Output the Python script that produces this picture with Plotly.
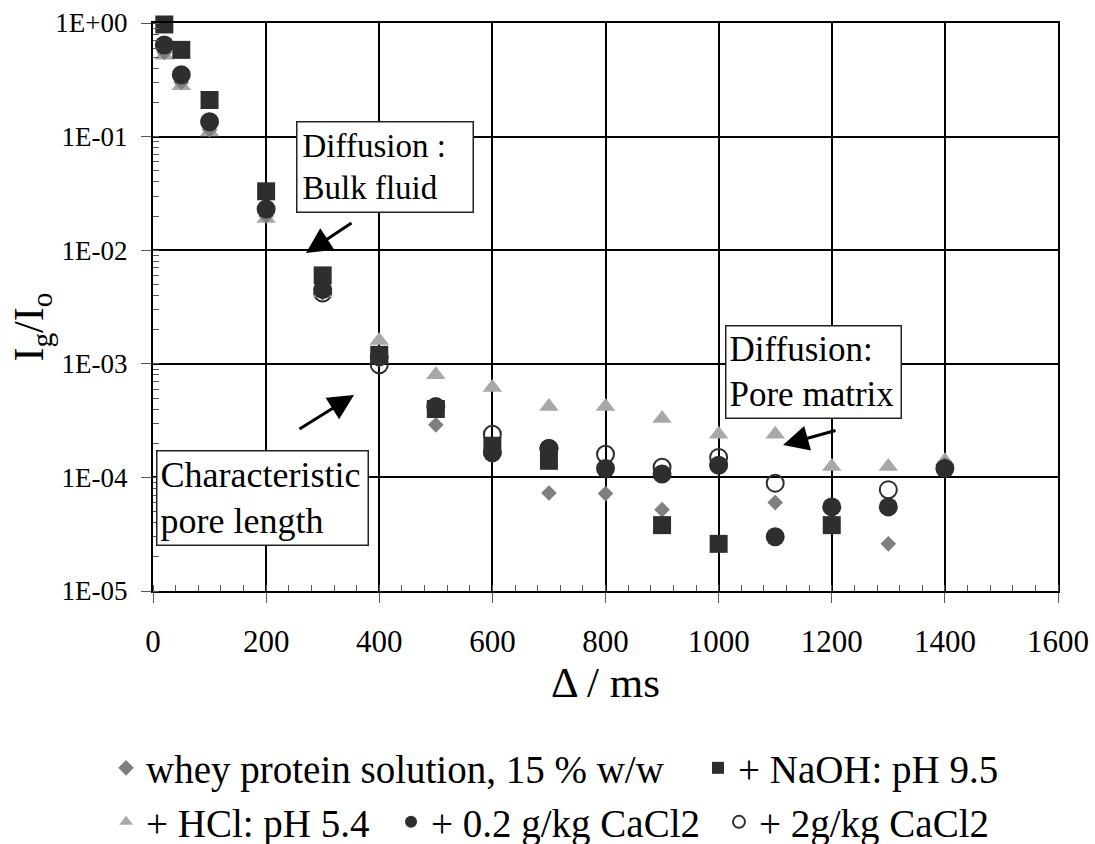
import plotly.graph_objects as go

# ---- data ----
x_whey = [20, 50, 100, 200, 300, 400, 500, 600, 700, 800, 900, 1100, 1300, 1400]
y_whey = [0.55, 0.30, 0.115, 0.020, 0.0042, 0.0011, 0.00029, 0.00018, 0.000073,
          0.000072, 0.000052, 0.00006, 0.000026, 0.00013]

x_naoh = [20, 50, 100, 200, 300, 400, 500, 600, 700, 900, 1000, 1200]
y_naoh = [0.97, 0.58, 0.21, 0.033, 0.006, 0.0012, 0.00040, 0.00019, 0.00014,
          0.000038, 0.000026, 0.000038]

x_hcl = [20, 50, 100, 200, 300, 400, 500, 600, 700, 800, 900, 1000, 1100, 1200, 1300, 1400]
y_hcl = [0.52, 0.28, 0.11, 0.019, 0.0042, 0.0016, 0.0008, 0.00062, 0.00042, 0.00042,
         0.00033, 0.00024, 0.00024, 0.000125, 0.000125, 0.00014]

x_ca02 = [20, 50, 100, 200, 300, 400, 500, 600, 700, 800, 900, 1000, 1100, 1200, 1300, 1400]
y_ca02 = [0.64, 0.35, 0.135, 0.023, 0.0045, 0.00115, 0.00042, 0.000165, 0.00018, 0.00012,
          0.000107, 0.000128, 0.00003, 0.000055, 0.000055, 0.00012]

x_ca2 = [300, 400, 600, 700, 800, 900, 1000, 1100, 1300]
y_ca2 = [0.0042, 0.00098, 0.00024, 0.00018, 0.00016, 0.000123, 0.00015, 0.000089, 0.000078]

names = ["whey protein solution, 15 % w/w", "+ NaOH: pH 9.5", "+ HCl: pH 5.4",
         "+ 0.2 g/kg CaCl2", "+ 2g/kg CaCl2"]

y_tickvals = [1, 0.1, 0.01, 0.001, 0.0001, 0.00001]
y_ticktext = ["1E+00", "1E-01", "1E-02", "1E-03", "1E-04", "1E-05"]
x_tickvals = [0, 200, 400, 600, 800, 1000, 1200, 1400, 1600]

FONT = "Liberation Serif"
DARK = "#2e2e2e"
MID = "#7f7f7f"
LIGHT = "#a8a8a8"

fig = go.Figure()

# drawing order (bottom -> top): open circle, triangle, diamond, filled circle, square
fig.add_trace(go.Scatter(x=x_ca2, y=y_ca2, mode="markers", name=names[4],
                         legend="legend5", cliponaxis=False,
                         marker=dict(symbol="circle-open", size=17, color=DARK,
                                     line=dict(width=2, color=DARK))))
fig.add_trace(go.Scatter(x=x_hcl, y=y_hcl, mode="markers", name=names[2],
                         legend="legend2", cliponaxis=False,
                         marker=dict(symbol="triangle-up", size=17, color=LIGHT)))
fig.add_trace(go.Scatter(x=x_whey, y=y_whey, mode="markers", name=names[0],
                         legend="legend", showlegend=True, cliponaxis=False,
                         marker=dict(symbol="diamond", size=12, color=MID)))
fig.add_trace(go.Scatter(x=x_ca02, y=y_ca02, mode="markers", name=names[3],
                         legend="legend4", cliponaxis=False,
                         marker=dict(symbol="circle", size=19, color=DARK)))
fig.add_trace(go.Scatter(x=x_naoh, y=y_naoh, mode="markers", name=names[1],
                         legend="legend3", cliponaxis=False,
                         marker=dict(symbol="square", size=18, color=DARK)))

axis_common = dict(showline=True, linecolor="black", linewidth=2, mirror=True,
                   showgrid=True, gridcolor="black", gridwidth=2,
                   ticks="outside", ticklen=10, tickwidth=1, tickcolor="#555",
                   zeroline=False)

fig.update_xaxes(range=[0, 1600], tickvals=x_tickvals, ticklabelstandoff=12,
                 tickfont=dict(family=FONT, size=31, color="black"),
                 minor=dict(ticks="inside", ticklen=6, dtick=40, tickcolor="#555", showgrid=False),
                 title=dict(text="Δ / ms", font=dict(family=FONT, size=43, color="black"), standoff=8),
                 **axis_common)
fig.update_yaxes(type="log", range=[-5, 0], tickvals=y_tickvals, ticktext=y_ticktext,
                 ticklabelstandoff=8,
                 tickfont=dict(family=FONT, size=27, color="black"),
                 minor=dict(ticks="inside", ticklen=6, dtick="D1", tickcolor="#555", showgrid=False),
                 **axis_common)

# y-axis title (placed as rotated text so it can sit where the reference has it)
fig.add_annotation(x=-0.134, y=0.465, xref="paper", yref="paper", textangle=-90,
                   xanchor="center", yanchor="middle",
                   text="I<sub>g</sub>/I<sub>o</sub>", showarrow=False,
                   font=dict(family=FONT, size=42, color="black"))

ann_font = dict(family=FONT, color="black")
fig.add_annotation(x=411, y=-1.268, xref="x", yref="y", text="Diffusion :<br>Bulk fluid",
                   showarrow=False, align="left", font=dict(size=33, **ann_font),
                   bordercolor="#222", borderwidth=1.5, borderpad=5, bgcolor="white", width=165)
fig.add_annotation(x=193, y=-4.177, xref="x", yref="y", text="Characteristic<br>pore length",
                   showarrow=False, align="left", font=dict(size=36, **ann_font),
                   bordercolor="#222", borderwidth=1.5, borderpad=3, bgcolor="white", width=204)
fig.add_annotation(x=1167, y=-3.072, xref="x", yref="y", text="Diffusion:<br>Pore matrix",
                   showarrow=False, align="left", font=dict(size=35, **ann_font),
                   bordercolor="#222", borderwidth=1.5, borderpad=3, bgcolor="white", width=168)

arrow_kw = dict(xref="x", yref="y", axref="x", ayref="y", text="", showarrow=True,
                arrowhead=2, arrowsize=1.7, arrowwidth=3, arrowcolor="black")
fig.add_annotation(x=270.5, y=-2.025, ax=353.6, ay=-1.752, **arrow_kw)
fig.add_annotation(x=355.4, y=-3.275, ax=256.4, ay=-3.583, **arrow_kw)
fig.add_annotation(x=1113.9, y=-3.715, ax=1209.3, ay=-3.583, **arrow_kw)

legend_font = dict(family=FONT, size=39, color="black")
leg_common = dict(orientation="h", xanchor="left", yanchor="middle", font=legend_font,
                  itemsizing="constant", bgcolor="rgba(0,0,0,0)")
row1_y = -0.3116
row2_y = -0.4067
fig.update_layout(
    width=1095, height=844, showlegend=True,
    margin=dict(l=153, r=37, t=23, b=253, autoexpand=False),
    paper_bgcolor="white", plot_bgcolor="white",
    legend=dict(x=-0.0519, y=row1_y, **leg_common),
    legend3=dict(x=0.6022, y=row1_y, **leg_common),
    legend2=dict(x=-0.0519, y=row2_y, **leg_common),
    legend4=dict(x=0.263, y=row2_y, **leg_common),
    legend5=dict(x=0.6254, y=row2_y, **leg_common),
)

fig.write_html("out.html")
